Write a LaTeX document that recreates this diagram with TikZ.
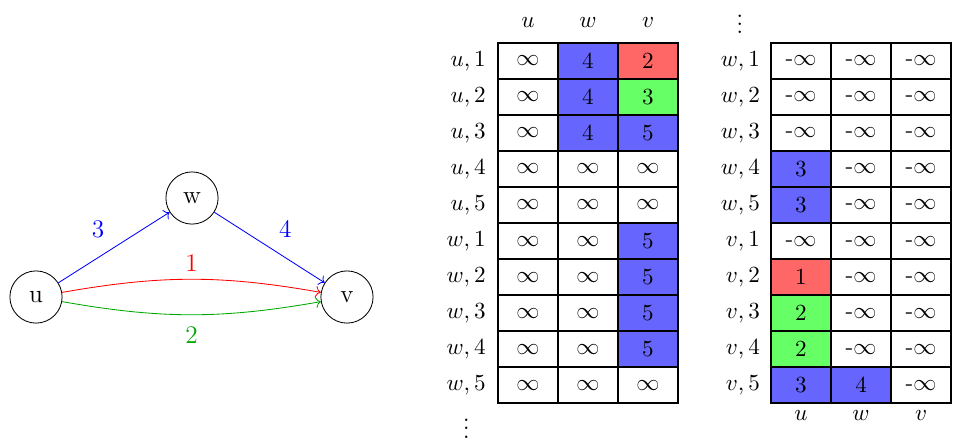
\documentclass[tikz,border=0pt]{standalone}
\usepackage{amsmath,amssymb}
\usepackage{xcolor}
\usepackage{tikz}
\usetikzlibrary{arrows.meta,positioning}

\colorlet{cblue}{blue!60}
\colorlet{cred}{red!60}
\colorlet{cgreen}{green!60}
\colorlet{egreen}{green!65!black}

\begin{document}
\fontsize{10.95}{13.6}\selectfont
\begin{tikzpicture}[
  vertex/.style={circle, draw, minimum size=0.87cm, inner sep=0pt, font=\large},
  weight/.style={font=\large},
  cell/.style={rectangle, draw, semithick, minimum width=1cm,
               minimum height=0.6cm, inner sep=0pt},
  rowlab/.style={anchor=east, inner sep=0pt},
  collab/.style={inner sep=0pt},
]
\useasboundingbox (0,0) rectangle (15.883,7.35);

% Graph
\node[vertex] (u) at (0.6,2.4) {u};
\node[vertex] (w) at (3.2,4.05) {w};
\node[vertex] (v) at (5.783,2.4) {v};

\draw[->, blue] (u) -- node[weight, above left=1pt]{3} (w);
\draw[->, blue] (w) -- node[weight, above right=1pt]{4} (v);
\draw[->, red] (u) to[bend left=10] node[weight, above]{1} (v);
\draw[->, egreen] (u) to[bend right=10] node[weight, below=2pt]{2} (v);

% Left table
\foreach \c/\lab in {1/u,2/w,3/v}
  \node[collab] (Lhead\c) at (7.8+\c,6.98) {$\lab$};
\foreach \r/\lab/\ca/\ta/\cb/\tb/\cc/\tc in {
    0/{u,1}/white/$\infty$/cblue/4/cred/2,
    1/{u,2}/white/$\infty$/cblue/4/cgreen/3,
    2/{u,3}/white/$\infty$/cblue/4/cblue/5,
    3/{u,4}/white/$\infty$/white/$\infty$/white/$\infty$,
    4/{u,5}/white/$\infty$/white/$\infty$/white/$\infty$,
    5/{w,1}/white/$\infty$/white/$\infty$/cblue/5,
    6/{w,2}/white/$\infty$/white/$\infty$/cblue/5,
    7/{w,3}/white/$\infty$/white/$\infty$/cblue/5,
    8/{w,4}/white/$\infty$/white/$\infty$/cblue/5,
    9/{w,5}/white/$\infty$/white/$\infty$/white/$\infty$}{
  \node[rowlab] (Lrow\r) at (8.1,6.333-0.6*\r) {$\lab$};
  \node[cell, fill=\ca] (L\r-1) at (8.8,6.333-0.6*\r) {\ta};
  \node[cell, fill=\cb] (L\r-2) at (9.8,6.333-0.6*\r) {\tb};
  \node[cell, fill=\cc] (L\r-3) at (10.8,6.333-0.6*\r) {\tc};
}
\node (Ldots) at (7.77,0.31) {$\vdots$};

% Right table
\node (Rdots) at (12.33,7.05) {$\vdots$};
\foreach \r/\lab/\ca/\ta/\cb/\tb/\cc/\tc in {
    0/{w,1}/white/-$\infty$/white/-$\infty$/white/-$\infty$,
    1/{w,2}/white/-$\infty$/white/-$\infty$/white/-$\infty$,
    2/{w,3}/white/-$\infty$/white/-$\infty$/white/-$\infty$,
    3/{w,4}/cblue/3/white/-$\infty$/white/-$\infty$,
    4/{w,5}/cblue/3/white/-$\infty$/white/-$\infty$,
    5/{v,1}/white/-$\infty$/white/-$\infty$/white/-$\infty$,
    6/{v,2}/cred/1/white/-$\infty$/white/-$\infty$,
    7/{v,3}/cgreen/2/white/-$\infty$/white/-$\infty$,
    8/{v,4}/cgreen/2/white/-$\infty$/white/-$\infty$,
    9/{v,5}/cblue/3/cblue/4/white/-$\infty$}{
  \node[rowlab] (Rrow\r) at (12.67,6.333-0.6*\r) {$\lab$};
  \node[cell, fill=\ca] (R\r-1) at (13.35,6.333-0.6*\r) {\ta};
  \node[cell, fill=\cb] (R\r-2) at (14.35,6.333-0.6*\r) {\tb};
  \node[cell, fill=\cc] (R\r-3) at (15.35,6.333-0.6*\r) {\tc};
}
\foreach \c/\lab in {1/u,2/w,3/v}
  \node[collab] (Rfoot\c) at (12.35+\c,0.433) {$\lab$};

\end{tikzpicture}
\end{document}
